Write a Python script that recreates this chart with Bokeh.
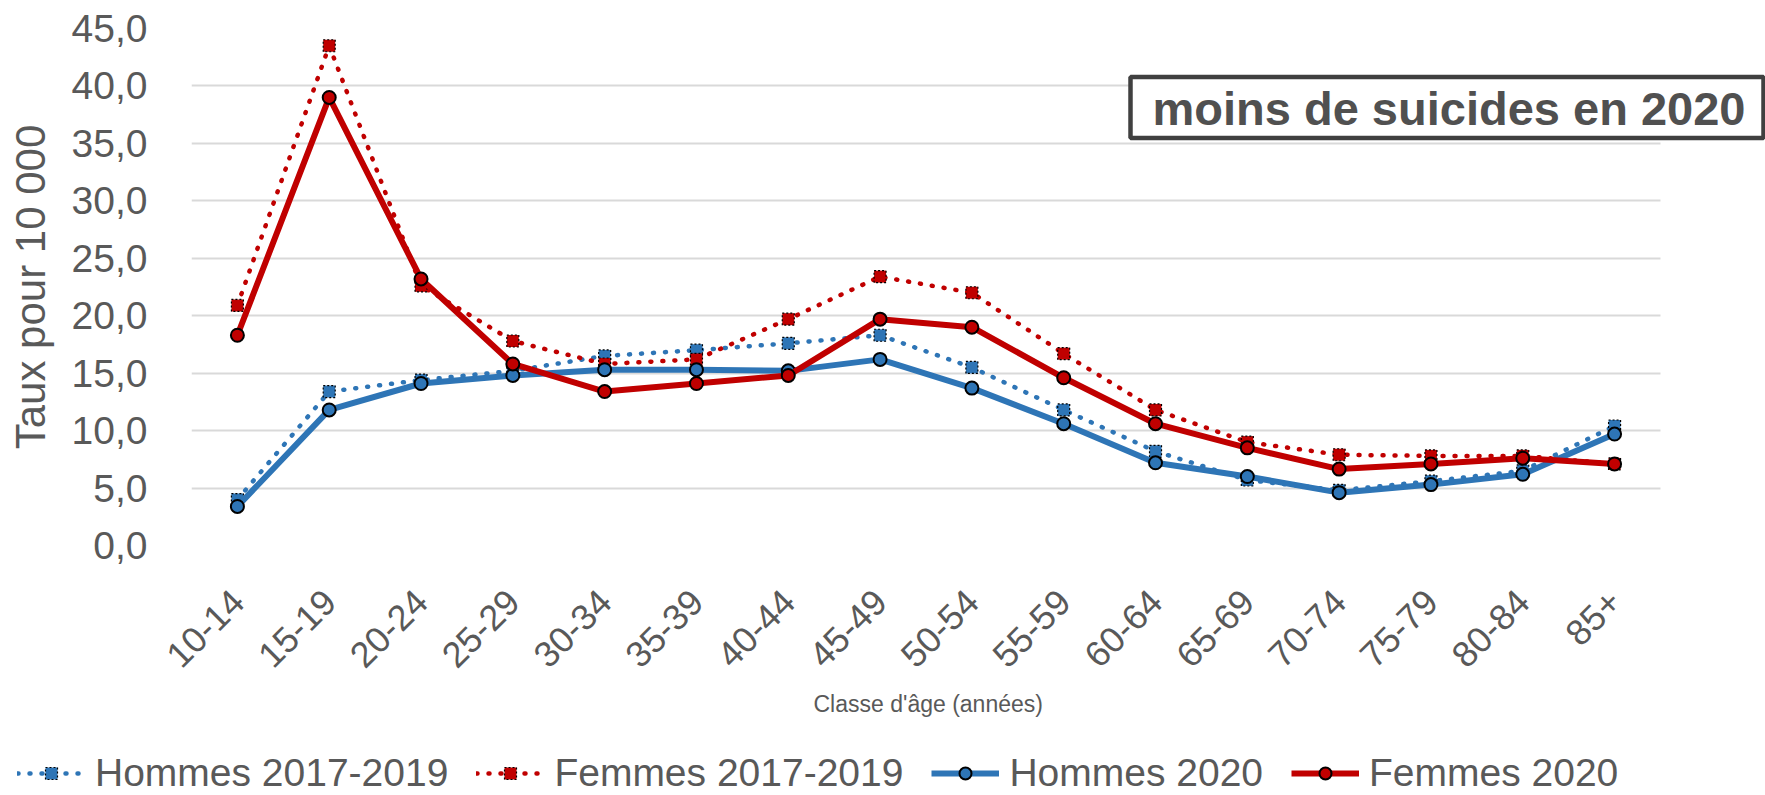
from bokeh.plotting import figure
from bokeh.models import (Range1d, FixedTicker, Legend, LegendItem, Label, BoxAnnotation, Title)
from bokeh.layouts import column
from bokeh.embed import file_html
from bokeh.resources import INLINE
from math import pi

categories = ["10-14", "15-19", "20-24", "25-29", "30-34", "35-39", "40-44", "45-49",
              "50-54", "55-59", "60-64", "65-69", "70-74", "75-79", "80-84", "85+"]
hommes_2017_2019 = [4.0, 13.4, 14.4, 15.2, 16.5, 17.0, 17.6, 18.3, 15.5, 11.8, 8.2, 5.7, 4.8, 5.6, 6.5, 10.4]
femmes_2017_2019 = [20.9, 43.5, 22.6, 17.8, 15.8, 16.2, 19.7, 23.4, 22.0, 16.7, 11.8, 9.0, 7.9, 7.8, 7.8, 7.1]
hommes_2020 = [3.4, 11.8, 14.1, 14.8, 15.3, 15.3, 15.2, 16.2, 13.7, 10.6, 7.2, 6.0, 4.6, 5.3, 6.2, 9.7]
femmes_2020 = [18.3, 39.0, 23.2, 15.8, 13.4, 14.1, 14.8, 19.7, 19.0, 14.6, 10.6, 8.5, 6.65, 7.1, 7.6, 7.1]
y_ticks = [0, 5, 10, 15, 20, 25, 30, 35, 40, 45]
y_tick_labels = ["0,0", "5,0", "10,0", "15,0", "20,0", "25,0", "30,0", "35,0", "40,0", "45,0"]

BLUE = "#2E75B6"
RED = "#C00000"
GREY = "#595959"
FONT = "Liberation Sans"

x_pos = list(range(len(categories)))

series = [
    ("Hommes 2017-2019", hommes_2017_2019, BLUE, True),
    ("Femmes 2017-2019", femmes_2017_2019, RED, True),
    ("Hommes 2020", hommes_2020, BLUE, False),
    ("Femmes 2020", femmes_2020, RED, False),
]


def draw_series(fig):
    rends = []
    for name, vals, color, dotted in series:
        if dotted:
            ln = fig.line(x_pos, vals, line_color=color, line_width=4.5, line_dash="1 11",
                          line_cap="round")
            mk = fig.scatter(x_pos, vals, marker="square", size=12, fill_color=color,
                             line_color="black", line_width=1.2, line_dash="2 2")
        else:
            ln = fig.line(x_pos, vals, line_color=color, line_width=6, line_join="round")
            mk = fig.scatter(x_pos, vals, marker="circle", size=13, fill_color=color,
                             line_color="black", line_width=2)
        rends.append((name, ln, mk))
    return rends


p = figure(width=1765, height=745, x_range=Range1d(-0.5, 16.644), y_range=Range1d(0, 45),
           output_backend="svg", toolbar_location=None,
           min_border_left=191, min_border_right=0, min_border_top=28, min_border_bottom=200)
p.outline_line_color = None
p.xgrid.grid_line_color = None
p.ygrid.grid_line_color = "#D9D9D9"
p.ygrid.grid_line_width = 2
p.ygrid.ticker = FixedTicker(ticks=y_ticks)
p.ygrid.cross_bounds = (-0.5, len(categories) - 0.5)

p.yaxis.ticker = FixedTicker(ticks=y_ticks)
p.yaxis.major_label_overrides = {t: l for t, l in zip(y_ticks, y_tick_labels)}
p.yaxis.axis_line_color = None
p.yaxis.major_tick_line_color = None
p.yaxis.minor_tick_line_color = None
p.yaxis.major_label_text_font = FONT
p.yaxis.major_label_text_font_size = "39px"
p.yaxis.major_label_text_color = GREY
p.yaxis.major_label_standoff = 38
p.yaxis.axis_label = "Taux pour 10 000"
p.yaxis.axis_label_text_font = FONT
p.yaxis.axis_label_text_font_size = "42px"
p.yaxis.axis_label_text_font_style = "normal"
p.yaxis.axis_label_text_color = GREY
p.yaxis.axis_label_standoff = 15

p.xaxis.ticker = FixedTicker(ticks=x_pos)
p.xaxis.major_label_overrides = {i: c for i, c in zip(x_pos, categories)}
p.xaxis.axis_line_color = None
p.xaxis.major_tick_line_color = None
p.xaxis.minor_tick_line_color = None
p.xaxis.major_label_orientation = pi / 4
p.xaxis.major_label_text_font = FONT
p.xaxis.major_label_text_font_size = "36px"
p.xaxis.major_label_text_color = GREY
p.xaxis.major_label_standoff = 44

xtitle = Title(text="Classe d'âge (années)", align="left", offset=622, standoff=14,
               text_font=FONT, text_font_size="23px", text_font_style="normal",
               text_color=GREY)
p.add_layout(xtitle, "below")

draw_series(p)

box = BoxAnnotation(left=939, right=1572, top=468.6, bottom=407.6,
                    left_units="screen", right_units="screen",
                    top_units="screen", bottom_units="screen",
                    fill_color="white", fill_alpha=1, line_color="#404040", line_alpha=1,
                    line_width=4.5)
p.add_layout(box)
lab = Label(x=961, y=437, x_units="screen", y_units="screen",
            text="moins de suicides en 2020", text_font=FONT, text_font_size="47px",
            text_font_style="bold", text_color="#505050", text_baseline="middle")
p.add_layout(lab)

# legend strip below the chart (same series, drawn out of its view; only the legend shows)
lg = figure(width=1765, height=50, x_range=Range1d(100, 101), y_range=Range1d(100, 101),
            output_backend="svg", toolbar_location=None,
            min_border_left=0, min_border_right=0, min_border_top=0, min_border_bottom=0)
lg.frame_align = False
lg.axis.visible = False
lg.grid.visible = False
lg.outline_line_color = None
items = [LegendItem(label=name, renderers=[ln, mk]) for name, ln, mk in draw_series(lg)]
legend = Legend(items=items, orientation="horizontal", location=(17, 0),
                label_text_font=FONT, label_text_font_size="39px", label_text_color=GREY,
                glyph_width=68, glyph_height=30, label_standoff=10, spacing=28,
                padding=0, margin=0, border_line_color=None, background_fill_alpha=0)
lg.add_layout(legend, "center")

open("out.html", "w").write(file_html(column(p, lg, spacing=0), INLINE))
